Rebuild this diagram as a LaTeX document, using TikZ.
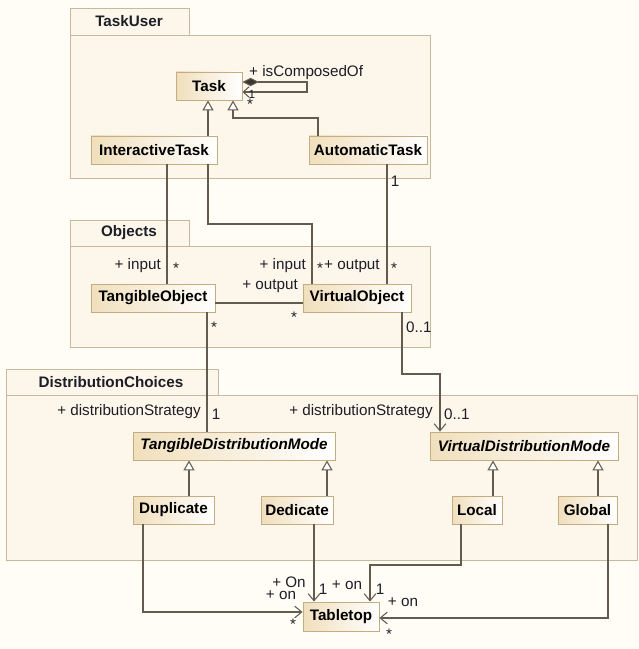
\documentclass[tikz,border=0pt]{standalone}
\usepackage{fontspec}
\setmainfont{Liberation Sans}
\usetikzlibrary{arrows.meta}
\definecolor{bgc}{HTML}{FFFDF6}
\definecolor{pkgfill}{HTML}{FDF6EA}
\definecolor{pkgdraw}{HTML}{C7B99C}
\definecolor{clsleft}{HTML}{F0DFBC}
\definecolor{clsdraw}{HTML}{C4AD83}
\definecolor{linec}{HTML}{625B4E}
\definecolor{txtc}{HTML}{1E1E28}
\tikzset{
  cls/.style={draw=clsdraw, line width=0.8pt, left color=clsleft, right color=white,
    text=black, font=\fontsize{13}{15}\selectfont\bfseries, inner sep=0pt, minimum height=0.84cm},
  lbl/.style={font=\fontsize{13}{15}\selectfont, text=txtc, inner sep=0pt},
  conn/.style={draw=linec, line width=0.9pt},
  gen/.style={conn, -{Triangle[length=8.5pt,width=9.5pt,fill=white]}},
  nav/.style={conn, -{Straight Barb[length=6pt,width=10pt]}},
  pkg/.style={draw=pkgdraw, fill=pkgfill, line width=0.8pt},
  pkglbl/.style={font=\fontsize{13}{15}\selectfont\bfseries, text=txtc, inner sep=0pt}
}
\begin{document}
\begin{tikzpicture}[x=0.03cm,y=-0.03cm]
\useasboundingbox (0,0) rectangle (638,649);
\fill[bgc] (0,0) rectangle (638,649);

% packages
\draw[pkg] (70,8) rectangle (189,35);
\draw[pkg] (70,35) rectangle (430,178);
\node[pkglbl] (tuLbl) at (129,21) {TaskUser};
\draw[pkg] (70,220) rectangle (189,246);
\draw[pkg] (70,246) rectangle (430,347);
\node[pkglbl] (obLbl) at (129,233) {Objects};
\draw[pkg] (6,369) rectangle (218,395);
\draw[pkg] (6,395) rectangle (637,560);
\node[pkglbl] (dcLbl) at (111,382) {DistributionChoices};

% classes
\node[cls, minimum width=1.98cm] (task) at (209,86) {Task};
\node[cls, minimum width=3.78cm] (itask) at (154,150) {InteractiveTask};
\node[cls, minimum width=3.54cm] (atask) at (368,150) {AutomaticTask};
\node[cls, minimum width=3.72cm] (tobj) at (153,298) {TangibleObject};
\node[cls, minimum width=3.24cm] (vobj) at (357,298) {VirtualObject};
\node[cls, minimum width=6.06cm, font=\fontsize{13}{15}\selectfont\bfseries\itshape] (tdm) at (234,446) {TangibleDistributionMode};
\node[cls, minimum width=5.64cm, font=\fontsize{13}{15}\selectfont\bfseries\itshape] (vdm) at (524,446) {VirtualDistributionMode};
\node[cls, minimum width=2.43cm] (dup) at (173.5,510) {Duplicate};
\node[cls, minimum width=2.16cm] (ded) at (297,510) {Dedicate};
\node[cls, minimum width=1.5cm] (loc) at (477,510) {Local};
\node[cls, minimum width=1.77cm] (glob) at (587.5,510) {Global};
\node[cls, minimum width=2.28cm, minimum height=0.87cm] (ttop) at (341,616.5) {Tabletop};

% TaskUser connectors
\draw[gen] (itask.north -| 208,0) -- (task.south -| 208,0);
\draw[gen] (atask.north -| 318,0) -- (318,118) -- (233,118) -- (task.south -| 233,0);
\draw[conn, {Diamond[length=14pt,width=7pt,fill=linec!60!black]}-{Straight Barb[length=5pt,width=9pt]}]
  (task.east |- 0,82) -- (307,82) -- (307,92) -- (task.east |- 0,92);
\node[lbl, anchor=west] (lComp) at (249,73) {+ isComposedOf};
\node[lbl, font=\fontsize{10}{12}\selectfont] (lComp1) at (252,94) {1};
\node[lbl] (lComp2) at (250,104) {*};

% Objects connectors
\draw[conn] (itask.south -| 167,0) -- (tobj.north -| 167,0);
\draw[conn] (itask.south -| 208,0) -- (208,224) -- (312,224) -- (vobj.north -| 312,0);
\draw[conn] (atask.south -| 387,0) -- (vobj.north -| 387,0);
\draw[conn] (tobj.east |- 0,303) -- (vobj.west |- 0,303);
\draw[conn] (tobj.south -| 207,0) -- (tdm.north -| 207,0);
\draw[nav] (vobj.south -| 402,0) -- (402,374) -- (440,374) -- (vdm.north -| 440,0);

\node[lbl] (l1a) at (395,181) {1};
\node[lbl, anchor=east] (l2a) at (161,266) {+ input};
\node[lbl] (l2b) at (176,268) {*};
\node[lbl, anchor=east] (l3a) at (306,266) {+ input};
\node[lbl] (l3b) at (320,268) {*};
\node[lbl, anchor=west] (l4a) at (324,266) {+ output};
\node[lbl] (l4b) at (394,268) {*};
\node[lbl, anchor=east] (l5a) at (298,286) {+ output};
\node[lbl] (l5b) at (294,317) {*};
\node[lbl] (l6a) at (214,327) {*};
\node[lbl, anchor=west] (l7a) at (406,327) {0..1};
\node[lbl, anchor=east] (l8a) at (201,412) {+ distributionStrategy};
\node[lbl] (l8b) at (216,414) {1};
\node[lbl, anchor=east] (l9a) at (433,412) {+ distributionStrategy};
\node[lbl, anchor=west] (l9b) at (444,414) {0..1};

% generalizations in DistributionChoices
\draw[gen] (dup.north -| 189,0) -- (tdm.south -| 189,0);
\draw[gen] (ded.north -| 327,0) -- (tdm.south -| 327,0);
\draw[gen] (loc.north -| 493,0) -- (vdm.south -| 493,0);
\draw[gen] (glob.north -| 598,0) -- (vdm.south -| 598,0);

% to Tabletop
\draw[nav] (dup.south -| 143,0) -- (143,612) -- (ttop.west |- 0,612);
\draw[nav] (ded.south -| 314,0) -- (ttop.north -| 314,0);
\draw[nav] (loc.south -| 461,0) -- (461,565) -- (370,565) -- (ttop.north -| 370,0);
\draw[nav] (glob.south -| 608,0) -- (608,618) -- (ttop.east |- 0,618);

\node[lbl] (t1) at (289,582) {+ On};
\node[lbl] (t2) at (281,595) {+ on};
\node[lbl] (t3) at (293,624) {*};
\node[lbl] (t4) at (323,589) {1};
\node[lbl] (t5) at (347,585) {+ on};
\node[lbl] (t6) at (380,589) {1};
\node[lbl] (t7) at (403,602) {+ on};
\node[lbl] (t8) at (389,634) {*};
\end{tikzpicture}
\end{document}
